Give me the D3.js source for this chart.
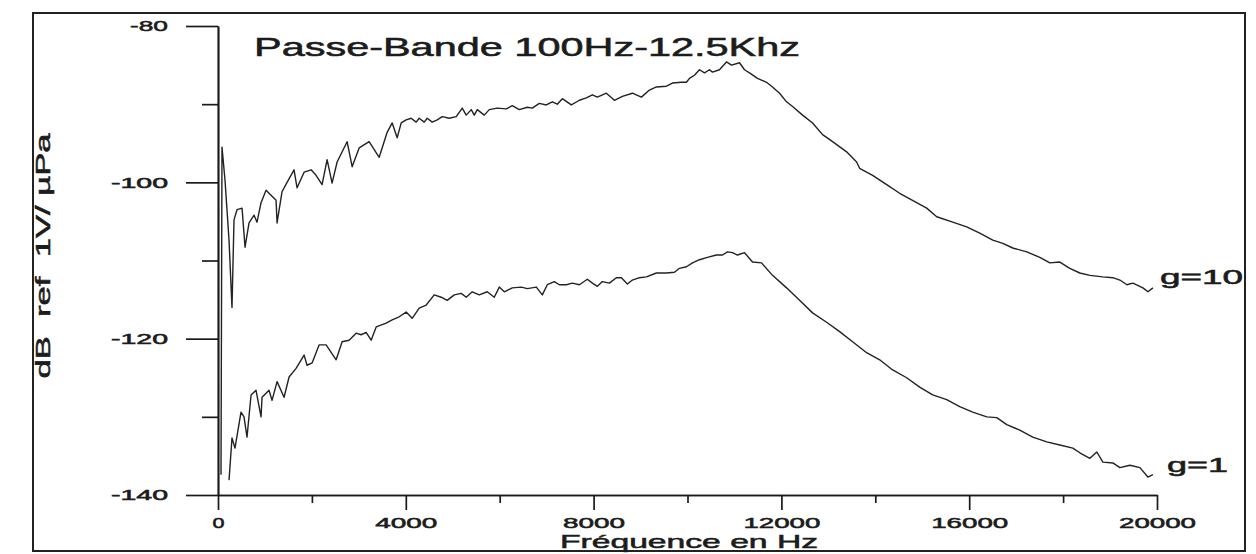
<!DOCTYPE html>
<html>
<head>
<meta charset="utf-8">
<script src="https://cdn.jsdelivr.net/npm/d3@7"></script>
<style>
  body { margin: 0; background: #fff; }
  text { font-family: "Liberation Sans", Arial, sans-serif; fill: #1c1c1c; stroke: #1c1c1c; stroke-width: 0.55px; }
</style>
</head>
<body>
<script>
// tick values
var yTicks = [-80, -100, -120, -140];
var yMinor = [-90, -110, -130];
var xTicks = [0, 4000, 8000, 12000, 16000, 20000];
var xMinor = [2000, 6000, 10000, 14000, 18000];

// g=10 curve (Hz / dB)
var g10Hz = [64, 85, 149, 235, 298, 341, 405, 512, 576, 661, 768, 831, 917, 1023, 1237, 1258, 1364, 1471, 1620, 1684,
  1834, 1983, 2089, 2217, 2324, 2430, 2537, 2750, 2857, 3006, 3219, 3433, 3603, 3710, 3816, 3902, 4008, 4115, 4221, 4285,
  4392, 4456, 4562, 4669, 4776, 4925, 5074, 5202, 5287, 5394, 5458, 5522, 5671, 5778, 5948, 6140, 6268, 6417, 6588, 6694,
  6844, 6993, 7121, 7227, 7334, 7526, 7697, 7846, 7974, 8080, 8272, 8443, 8613, 8826, 9018, 9189, 9338, 9551, 9679, 9871,
  9978, 10042, 10148, 10255, 10362, 10468, 10532, 10681, 10830, 10937, 11108, 11214, 11321, 11491, 11683, 11811, 11961, 12110, 12238, 12451,
  12664, 12877, 13090, 13389, 13602, 13666, 13943, 14242, 14519, 14881, 15095, 15308, 15649, 15947, 16225, 16502, 16715, 16928, 17227, 17504,
  17717, 17930, 18143, 18356, 18570, 18847, 19060, 19209, 19359, 19487, 19700, 19806, 19913];
var g10Db = [-137.4, -95.5, -99.7, -107.4, -116.0, -104.8, -103.5, -103.3, -108.3, -105.2, -104.2, -105.1, -102.6, -101.0, -102.3, -105.2, -101.2, -100.0, -98.4, -100.7,
  -98.7, -98.4, -99.1, -100.3, -97.1, -100.1, -97.4, -94.8, -98.0, -95.6, -94.8, -96.8, -93.6, -92.4, -94.3, -92.4, -92.0, -91.8, -92.3, -91.8,
  -92.3, -91.8, -92.3, -92.0, -91.6, -91.8, -91.6, -90.5, -91.4, -90.7, -91.4, -90.7, -91.4, -90.7, -90.5, -90.6, -90.2, -90.7, -90.4, -90.5,
  -89.9, -90.1, -89.7, -90.0, -89.3, -90.1, -89.5, -89.2, -88.8, -89.1, -88.6, -89.5, -89.0, -88.6, -89.1, -88.2, -87.8, -87.7, -87.3, -87.2,
  -87.2, -86.7, -86.3, -85.6, -86.0, -85.6, -85.9, -85.6, -84.6, -85.0, -84.7, -85.6, -86.0, -86.7, -87.2, -87.8, -88.6, -89.7, -90.3, -91.4,
  -92.4, -93.9, -94.8, -96.1, -97.4, -98.2, -99.1, -100.3, -101.4, -102.6, -103.3, -104.4, -105.1, -105.7, -106.5, -107.4, -107.8, -108.4, -108.9, -109.6,
  -110.3, -110.2, -111.0, -111.6, -111.9, -112.1, -112.2, -112.5, -113.1, -112.9, -113.5, -114.0, -113.5];

// g=1 curve (Hz / dB)
var g1Hz = [235, 298, 362, 490, 554, 618, 704, 810, 917, 938, 1087, 1151, 1258, 1407, 1514, 1663, 1834, 1897, 2004, 2153,
  2303, 2516, 2644, 2793, 2942, 3049, 3155, 3262, 3369, 3582, 3710, 3859, 4008, 4136, 4285, 4435, 4605, 4754, 4882, 5032,
  5181, 5287, 5415, 5565, 5735, 5884, 5991, 6098, 6268, 6460, 6588, 6780, 6908, 7014, 7164, 7270, 7419, 7547, 7697, 7867,
  7974, 8080, 8187, 8336, 8485, 8592, 8720, 8826, 8976, 9125, 9338, 9551, 9722, 9829, 9978, 10106, 10255, 10425, 10617, 10745,
  10852, 10958, 11065, 11214, 11385, 11577, 11811, 12110, 12387, 12664, 12963, 13240, 13517, 13815, 14093, 14370, 14668, 14945, 15222, 15521,
  15798, 16075, 16374, 16587, 16800, 17077, 17354, 17653, 17930, 18207, 18356, 18570, 18719, 18847, 19060, 19209, 19423, 19636, 19806, 19913];
var g1Db = [-138.1, -132.7, -134.0, -129.4, -130.0, -132.6, -127.2, -126.6, -130.0, -127.5, -126.6, -127.9, -125.5, -127.5, -124.9, -123.8, -122.1, -123.4, -123.1, -120.8,
  -120.8, -122.7, -120.4, -120.2, -119.3, -119.5, -119.2, -120.2, -118.5, -118.0, -117.6, -117.2, -116.6, -117.4, -116.1, -115.7, -114.4, -114.7, -115.1, -114.4,
  -114.2, -114.7, -114.0, -114.4, -114.0, -114.7, -113.4, -114.0, -113.5, -113.4, -113.6, -113.4, -114.4, -113.1, -112.7, -113.1, -113.1, -112.9, -113.1, -112.4,
  -112.9, -113.3, -112.7, -112.9, -112.2, -112.2, -113.0, -112.5, -112.2, -112.1, -111.6, -111.6, -111.5, -111.0, -110.8, -110.3, -109.9, -109.6, -109.3, -109.3,
  -108.9, -109.0, -109.3, -109.0, -110.2, -110.3, -111.9, -113.5, -115.1, -116.7, -117.9, -119.1, -120.4, -121.8, -122.7, -124.0, -125.0, -126.2, -127.2, -127.8,
  -128.7, -129.4, -130.0, -130.1, -131.0, -131.7, -132.6, -133.2, -133.6, -134.0, -134.6, -135.3, -134.5, -135.8, -135.9, -136.5, -136.2, -136.5, -137.7, -137.4];

var W = 1256, H = 554;

var svg = d3.select("body").append("svg")
    .attr("width", W)
    .attr("height", H);

// frame around the whole figure
svg.append("rect")
    .attr("x", 33).attr("y", 13)
    .attr("width", 1212).attr("height", 538)
    .attr("fill", "none")
    .attr("stroke", "#222")
    .attr("stroke-width", 2);

var x = d3.scaleLinear().domain([0, 20000]).range([218, 1157]);
var y = d3.scaleLinear().domain([-140, -80]).range([495, 26]);

// the scan is stretched sideways: force each text to the width it has there
function widen(sel, w) {
    sel.attr("textLength", w).attr("lengthAdjust", "spacingAndGlyphs");
}

// y axis: minor then major
svg.append("g")
    .attr("transform", "translate(" + x(0) + ",0)")
    .call(d3.axisLeft(y).tickValues(yMinor).tickSize(16).tickSizeOuter(0).tickFormat(""));
var yAx = svg.append("g")
    .attr("transform", "translate(" + x(0) + ",0)")
    .call(d3.axisLeft(y).tickValues(yTicks).tickSize(32).tickSizeOuter(0).tickPadding(18));

// x axis: minor then major
svg.append("g")
    .attr("transform", "translate(0," + y(-140) + ")")
    .call(d3.axisBottom(x).tickValues(xMinor).tickSize(8).tickSizeOuter(0).tickFormat(""));
var xAx = svg.append("g")
    .attr("transform", "translate(0," + y(-140) + ")")
    .call(d3.axisBottom(x).tickValues(xTicks).tickSize(15).tickSizeOuter(0).tickPadding(7).tickFormat(d3.format("d")));

svg.selectAll(".domain, .tick line")
    .attr("stroke", "#1a1a1a")
    .attr("stroke-width", 1.7);

var yLabW = {3: 38, 4: 57};
yAx.selectAll("text")
    .attr("font-size", 15.5)
    .attr("font-family", "Liberation Sans, Arial, sans-serif")
    .attr("fill", "#1c1c1c")
    .text(function(d) { return "-" + Math.abs(d); })
    .attr("textLength", function(d) { return yLabW[String(d).length]; })
    .attr("lengthAdjust", "spacingAndGlyphs");

var xLabW = {1: 12, 4: 62, 5: 77};
xAx.selectAll("text")
    .attr("font-size", 15.5)
    .attr("font-family", "Liberation Sans, Arial, sans-serif")
    .attr("fill", "#1c1c1c")
    .attr("textLength", function(d) { return xLabW[String(d).length]; })
    .attr("lengthAdjust", "spacingAndGlyphs");

// curves
var line = d3.line()
    .x(function(d) { return x(d[0]); })
    .y(function(d) { return y(d[1]); });

var series = [d3.zip(g10Hz, g10Db), d3.zip(g1Hz, g1Db)];
svg.selectAll(".curve")
    .data(series)
    .enter().append("path")
    .attr("class", "curve")
    .attr("d", line)
    .attr("fill", "none")
    .attr("stroke", "#222")
    .attr("stroke-width", 1.4)
    .attr("stroke-linejoin", "round");

// texts
svg.append("text")
    .attr("x", 254).attr("y", 56)
    .attr("font-size", 26)
    .text("Passe-Bande 100Hz-12.5Khz")
    .call(widen, 546);

svg.append("text")
    .attr("x", 689).attr("y", 548)
    .attr("text-anchor", "middle")
    .attr("font-size", 19)
    .text("Fréquence en Hz")
    .call(widen, 258);

svg.append("text")
    .attr("transform", "translate(50,256) rotate(-90)")
    .attr("text-anchor", "middle")
    .attr("font-size", 21)
    .attr("xml:space", "preserve")
    .text("dB  ref  1V/ µPa")
    .call(widen, 245);

svg.append("text")
    .attr("x", 1160).attr("y", 284)
    .attr("font-size", 20)
    .text("g=10")
    .call(widen, 83);

svg.append("text")
    .attr("x", 1167).attr("y", 472)
    .attr("font-size", 20)
    .text("g=1")
    .call(widen, 61);
</script>
</body>
</html>
